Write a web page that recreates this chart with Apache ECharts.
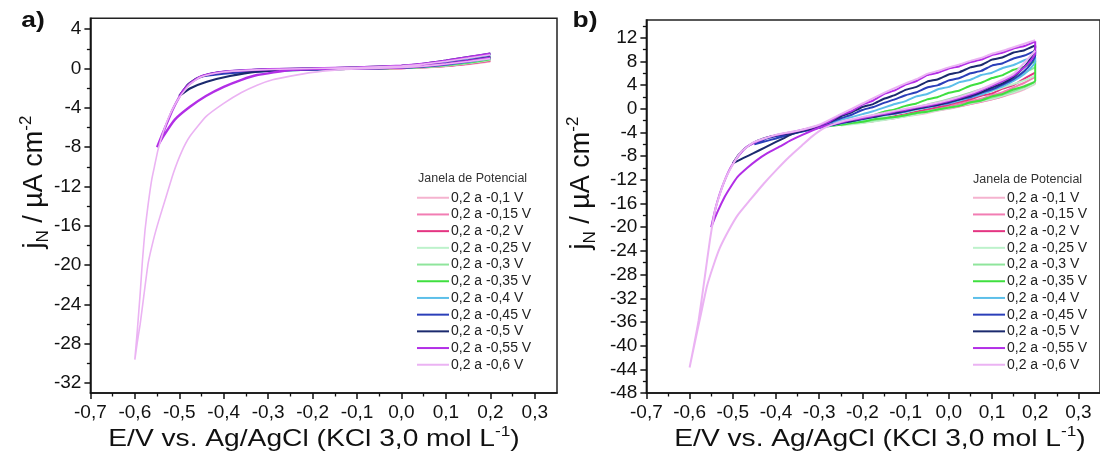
<!DOCTYPE html>
<html><head><meta charset="utf-8">
<script src="https://cdn.jsdelivr.net/npm/echarts@6/dist/echarts.min.js"></script>
<style>html,body{margin:0;padding:0;background:#fff}#c{width:1100px;height:455px}</style>
</head><body><div id="c"></div>
<script>
const seriesNames = ['0,2 a -0,1 V','0,2 a -0,15 V','0,2 a -0,2 V','0,2 a -0,25 V','0,2 a -0,3 V','0,2 a -0,35 V','0,2 a -0,4 V','0,2 a -0,45 V','0,2 a -0,5 V','0,2 a -0,55 V','0,2 a -0,6 V'];
const seriesColors = ['#f5b3cf','#f27db3','#e43582','#bdf2cb','#8fe59c','#3fdf3f','#5cbfe9','#2b3fb9','#1b2a6e','#b22ee6','#ebb3f3'];
const xTickValues = [-0.7,-0.6,-0.5,-0.4,-0.3,-0.2,-0.1,0,0.1,0.2,0.3];
const xMinorValues = [-0.65,-0.55,-0.45,-0.35,-0.25,-0.15,-0.05,0.05,0.15,0.25];
const yTicksA = [-32,-28,-24,-20,-16,-12,-8,-4,0,4];
const yMinorA = [-30,-26,-22,-18,-14,-10,-6,-2,2];
const yTicksB = [-48,-44,-40,-36,-32,-28,-24,-20,-16,-12,-8,-4,0,4,8,12];
const yMinorB = [-46,-42,-38,-34,-30,-26,-22,-18,-14,-10,-6,-2,2,6,10,14];
const legendTitle = 'Janela de Potencial';
const panelLabels = ['a)', 'b)'];

const a_01 = [[0.2,0.82],[0.15,0.5],[0.1,0.3],[0.05,0.16],[0,0.08],[-0.05,0.02],[-0.1,-0.05],[-0.05,-0.02],[0,0.03],[0.05,0.1],[0.1,0.22],[0.15,0.42],[0.2,0.7]];
const a_015 = [[0.2,0.9],[0.15,0.56],[0.1,0.34],[0.05,0.18],[0,0.09],[-0.05,0.03],[-0.1,-0.02],[-0.15,-0.08],[-0.1,-0.05],[-0.05,-0.02],[0,0.03],[0.05,0.1],[0.1,0.24],[0.15,0.45],[0.2,0.75]];
const a_02 = [[0.2,0.95],[0.15,0.6],[0.1,0.37],[0.05,0.2],[0,0.1],[-0.1,-0.01],[-0.2,-0.1],[-0.15,-0.07],[-0.1,-0.04],[0,0.03],[0.05,0.11],[0.1,0.26],[0.15,0.48],[0.2,0.8]];
const a_025 = [[0.2,1.0],[0.15,0.65],[0.1,0.4],[0.05,0.22],[0,0.12],[-0.1,0],[-0.2,-0.08],[-0.25,-0.14],[-0.2,-0.11],[-0.1,-0.04],[0,0.04],[0.05,0.12],[0.1,0.28],[0.15,0.52],[0.2,0.85]];
const a_03 = [[0.2,1.1],[0.15,0.72],[0.1,0.45],[0.05,0.25],[0,0.14],[-0.1,0.01],[-0.2,-0.07],[-0.3,-0.2],[-0.25,-0.16],[-0.2,-0.11],[-0.1,-0.04],[0,0.05],[0.05,0.14],[0.1,0.3],[0.15,0.56],[0.2,0.9]];
const a_035 = [[0.2,1.2],[0.15,0.82],[0.1,0.52],[0.05,0.3],[0,0.16],[-0.1,0.02],[-0.2,-0.06],[-0.3,-0.18],[-0.35,-0.3],[-0.3,-0.24],[-0.2,-0.12],[-0.1,-0.04],[0,0.06],[0.05,0.16],[0.1,0.34],[0.15,0.6],[0.2,0.95]];
const a_04 = [[0.2,1.3],[0.15,0.95],[0.1,0.62],[0.05,0.36],[0,0.2],[-0.1,0.04],[-0.2,-0.05],[-0.3,-0.15],[-0.35,-0.24],[-0.4,-0.4],[-0.37,-0.36],[-0.3,-0.26],[-0.2,-0.13],[-0.1,-0.04],[0,0.07],[0.05,0.18],[0.1,0.38],[0.15,0.66],[0.2,1.0]];
const a_045 = [[0.2,1.45],[0.15,1.08],[0.1,0.72],[0.05,0.42],[0,0.24],[-0.1,0.06],[-0.2,-0.03],[-0.3,-0.1],[-0.35,-0.2],[-0.4,-0.36],[-0.43,-0.56],[-0.45,-0.8],[-0.42,-0.62],[-0.38,-0.46],[-0.3,-0.24],[-0.2,-0.11],[-0.1,-0.03],[0,0.08],[0.05,0.2],[0.1,0.42],[0.15,0.72],[0.2,1.1]];
const a_05 = [[0.2,1.5],[0.15,1.15],[0.1,0.8],[0.05,0.48],[0,0.27],[-0.1,0.1],[-0.2,0],[-0.3,-0.1],[-0.35,-0.2],[-0.4,-0.35],[-0.43,-0.55],[-0.46,-1.0],[-0.48,-1.6],[-0.5,-2.8],[-0.476,-2.03],[-0.438,-1.35],[-0.386,-0.77],[-0.325,-0.33],[-0.25,-0.12],[-0.15,-0.03],[-0.05,0.02],[0,0.1],[0.05,0.24],[0.1,0.48],[0.15,0.8],[0.2,1.15]];
const a_055 = [[0.2,1.5],[0.15,1.15],[0.1,0.8],[0.05,0.48],[0,0.27],[-0.1,0.1],[-0.2,0],[-0.3,-0.08],[-0.35,-0.18],[-0.4,-0.34],[-0.43,-0.55],[-0.453,-0.85],[-0.475,-1.5],[-0.49,-2.2],[-0.5,-2.9],[-0.515,-4.2],[-0.53,-5.8],[-0.55,-8.0],[-0.536,-6.9],[-0.51,-5.2],[-0.476,-3.9],[-0.44,-2.8],[-0.4,-1.87],[-0.36,-1.15],[-0.325,-0.67],[-0.25,-0.16],[-0.15,-0.02],[-0.05,0.02],[0,0.1],[0.05,0.24],[0.1,0.46],[0.15,0.76],[0.2,1.1]];
const a_06 = [[0.2,1.4],[0.15,1.05],[0.1,0.72],[0.05,0.44],[0,0.25],[-0.1,0.08],[-0.2,-0.01],[-0.3,-0.1],[-0.35,-0.2],[-0.4,-0.36],[-0.43,-0.58],[-0.453,-0.9],[-0.475,-1.55],[-0.5,-2.95],[-0.52,-4.6],[-0.535,-6.3],[-0.548,-8.3],[-0.556,-10],[-0.562,-11.3],[-0.57,-13.8],[-0.577,-16.4],[-0.583,-19.6],[-0.588,-22.9],[-0.594,-26.4],[-0.6,-29.6],[-0.595,-28.0],[-0.588,-26.0],[-0.58,-23.2],[-0.57,-19.8],[-0.558,-17.4],[-0.547,-15.6],[-0.53,-13.1],[-0.513,-10.6],[-0.495,-8.5],[-0.476,-6.9],[-0.44,-4.9],[-0.4,-3.55],[-0.36,-2.45],[-0.325,-1.7],[-0.29,-1.15],[-0.25,-0.78],[-0.2,-0.4],[-0.15,-0.17],[-0.1,-0.04],[0,0.1],[0.05,0.24],[0.1,0.45],[0.15,0.7],[0.2,1.0]];

const b_01 = [[0.2,4.6],[0.175,3.9],[0.15,3.1],[0.125,2.6],[0.1,1.9],[0.075,1.5],[0.05,1.0],[0.025,0.7],[0,0.3],[-0.025,-0.1],[-0.05,-0.5],[-0.075,-0.8],[-0.1,-1.2],[-0.075,-1.0],[-0.05,-0.7],[-0.025,-0.3],[0,0.0],[0.025,0.4],[0.05,0.8],[0.075,1.2],[0.1,1.6],[0.125,2.1],[0.15,2.6],[0.175,3.3],[0.2,4.2]];
const b_015 = [[0.2,5.4],[0.175,4.4],[0.15,3.6],[0.125,2.8],[0.1,2.3],[0.075,1.7],[0.05,1.3],[0.025,0.9],[0,0.5],[-0.05,-0.3],[-0.1,-1.0],[-0.125,-1.4],[-0.15,-1.8],[-0.125,-1.6],[-0.1,-1.2],[-0.05,-0.5],[0,0.1],[0.05,0.8],[0.1,1.6],[0.125,2.1],[0.15,2.8],[0.175,3.4],[0.2,4.5]];
const b_02 = [[0.2,6.1],[0.175,5.1],[0.15,4.0],[0.125,3.4],[0.1,2.6],[0.075,2.2],[0.05,1.6],[0.025,1.2],[0,0.7],[-0.05,-0.1],[-0.1,-0.9],[-0.15,-1.6],[-0.2,-2.3],[-0.175,-2.1],[-0.15,-1.8],[-0.1,-1.2],[-0.05,-0.5],[0,0.2],[0.05,1.0],[0.075,1.4],[0.1,1.9],[0.125,2.4],[0.15,3.0],[0.175,3.7],[0.2,4.4]];
const b_025 = [[0.2,5.6],[0.175,4.8],[0.15,4.2],[0.1,3.0],[0.05,2.0],[0,1.1],[-0.05,0.3],[-0.1,-0.5],[-0.15,-1.3],[-0.2,-2.1],[-0.25,-2.8],[-0.2,-2.4],[-0.15,-1.9],[-0.1,-1.3],[-0.05,-0.6],[0,0.1],[0.05,0.9],[0.1,1.7],[0.15,2.8],[0.175,3.4],[0.2,4.3]];
const b_03 = [[0.2,7.0],[0.175,6.1],[0.15,5.3],[0.125,4.5],[0.1,3.9],[0.05,2.7],[0,1.6],[-0.05,0.7],[-0.1,-0.2],[-0.15,-1.0],[-0.2,-1.8],[-0.25,-2.5],[-0.3,-3.1],[-0.25,-2.7],[-0.2,-2.2],[-0.15,-1.7],[-0.1,-1.1],[-0.05,-0.4],[0,0.2],[0.05,1.0],[0.1,1.9],[0.125,2.4],[0.15,3.0],[0.175,3.7],[0.2,4.6]];
const b_035 = [[0.2,8.1],[0.175,7.1],[0.15,6.6],[0.125,5.7],[0.1,5.2],[0.075,4.4],[0.05,3.9],[0.025,3.1],[0,2.7],[-0.025,2.0],[-0.05,1.6],[-0.075,0.9],[-0.1,0.5],[-0.125,-0.1],[-0.15,-0.5],[-0.175,-1.1],[-0.2,-1.5],[-0.25,-2.3],[-0.3,-3.0],[-0.325,-3.4],[-0.35,-3.8],[-0.325,-3.5],[-0.3,-3.1],[-0.275,-2.9],[-0.25,-2.7],[-0.225,-2.4],[-0.2,-2.2],[-0.175,-1.8],[-0.15,-1.6],[-0.125,-1.4],[-0.1,-1.1],[-0.075,-0.7],[-0.05,-0.5],[-0.025,-0.1],[0,0.2],[0.025,0.5],[0.05,1.1],[0.075,1.4],[0.1,2.1],[0.125,2.5],[0.15,3.3],[0.175,3.8],[0.2,4.7],[0.2,8.1]];
const b_04 = [[0.2,8.7],[0.175,8.2],[0.15,7.4],[0.125,6.9],[0.1,6.1],[0.075,5.7],[0.05,4.9],[0.025,4.5],[0,3.7],[-0.025,3.3],[-0.05,2.5],[-0.075,2.1],[-0.1,1.3],[-0.125,0.8],[-0.15,0.2],[-0.175,-0.4],[-0.2,-0.9],[-0.25,-1.9],[-0.3,-2.9],[-0.35,-3.8],[-0.375,-4.2],[-0.4,-4.8],[-0.375,-4.4],[-0.35,-4.0],[-0.3,-3.2],[-0.25,-2.5],[-0.2,-1.8],[-0.15,-1.1],[-0.1,-0.5],[-0.075,-0.1],[-0.05,0.2],[-0.025,0.6],[0,0.9],[0.025,1.4],[0.05,1.9],[0.075,2.4],[0.1,3.1],[0.125,3.8],[0.15,4.7],[0.175,5.9],[0.19,6.9],[0.2,8.0],[0.2,8.7]];
const b_045 = [[0.2,9.8],[0.175,9.0],[0.15,8.5],[0.125,7.7],[0.1,7.3],[0.075,6.4],[0.05,6.0],[0.025,5.2],[0,4.8],[-0.025,4.0],[-0.05,3.6],[-0.075,2.8],[-0.1,2.3],[-0.125,1.6],[-0.15,1.0],[-0.175,0.3],[-0.2,-0.2],[-0.225,-1.0],[-0.25,-1.6],[-0.275,-2.3],[-0.3,-2.9],[-0.35,-3.8],[-0.4,-4.6],[-0.425,-5.1],[-0.45,-6.0],[-0.425,-5.5],[-0.4,-5.0],[-0.35,-4.0],[-0.3,-3.2],[-0.25,-2.4],[-0.2,-1.7],[-0.15,-1.0],[-0.125,-0.8],[-0.1,-0.4],[-0.075,0.0],[-0.05,0.3],[-0.025,0.7],[0,1.0],[0.025,1.6],[0.05,2.0],[0.075,2.7],[0.1,3.3],[0.125,4.1],[0.15,5.0],[0.175,6.4],[0.19,7.6],[0.2,9.0],[0.2,9.8]];
const b_05 = [[0.2,10.7],[0.175,9.9],[0.15,9.5],[0.125,8.7],[0.1,8.3],[0.075,7.4],[0.05,7.0],[0.025,6.2],[0,5.8],[-0.025,5.0],[-0.05,4.6],[-0.075,3.7],[-0.1,3.2],[-0.125,2.3],[-0.15,1.7],[-0.175,0.8],[-0.2,0.3],[-0.225,-0.6],[-0.25,-1.3],[-0.275,-2.2],[-0.3,-2.9],[-0.325,-3.5],[-0.35,-3.9],[-0.375,-4.2],[-0.4,-4.5],[-0.414,-4.7],[-0.44,-5.3],[-0.467,-6.4],[-0.485,-7.6],[-0.5,-9.2],[-0.475,-8.3],[-0.452,-7.5],[-0.425,-6.5],[-0.4,-5.6],[-0.38,-4.9],[-0.361,-4.2],[-0.33,-3.6],[-0.3,-3.1],[-0.275,-2.8],[-0.25,-2.4],[-0.225,-2.1],[-0.2,-1.7],[-0.175,-1.4],[-0.15,-1.0],[-0.125,-0.7],[-0.1,-0.3],[-0.075,0.0],[-0.05,0.4],[-0.025,0.7],[0,1.2],[0.025,1.6],[0.05,2.2],[0.075,2.8],[0.1,3.6],[0.125,4.3],[0.15,5.4],[0.175,7.1],[0.19,8.6],[0.2,10.3],[0.2,10.7]];
const b_055 = [[0.2,11.4],[0.175,10.6],[0.15,10.2],[0.125,9.5],[0.1,9.1],[0.075,8.3],[0.05,7.9],[0.025,7.2],[0,6.8],[-0.025,6.1],[-0.05,5.7],[-0.075,4.7],[-0.1,4.1],[-0.125,3.1],[-0.15,2.5],[-0.175,1.4],[-0.2,0.7],[-0.225,-0.4],[-0.25,-1.0],[-0.275,-2.1],[-0.3,-2.8],[-0.33,-3.4],[-0.361,-3.9],[-0.39,-4.3],[-0.414,-4.7],[-0.44,-5.4],[-0.467,-6.4],[-0.485,-7.8],[-0.504,-9.8],[-0.517,-11.8],[-0.53,-14.3],[-0.54,-16.8],[-0.55,-20.0],[-0.536,-17.5],[-0.519,-14.9],[-0.505,-13.2],[-0.489,-11.5],[-0.467,-10.0],[-0.445,-8.7],[-0.42,-7.5],[-0.392,-6.4],[-0.365,-5.3],[-0.339,-4.4],[-0.3,-3.2],[-0.275,-2.7],[-0.25,-2.3],[-0.225,-1.9],[-0.2,-1.6],[-0.175,-1.2],[-0.15,-0.9],[-0.125,-0.5],[-0.1,-0.2],[-0.075,0.2],[-0.05,0.5],[-0.025,0.9],[0,1.3],[0.025,1.8],[0.05,2.4],[0.075,3.1],[0.1,3.9],[0.125,4.7],[0.15,5.6],[0.175,7.0],[0.19,8.2],[0.2,9.4],[0.2,11.4]];
const b_06 = [[0.2,11.6],[0.175,11.0],[0.15,10.4],[0.125,9.8],[0.1,9.3],[0.075,8.6],[0.05,8.1],[0.025,7.5],[0,7.0],[-0.025,6.4],[-0.05,5.9],[-0.075,5.0],[-0.1,4.3],[-0.15,2.7],[-0.2,0.9],[-0.25,-0.9],[-0.3,-2.7],[-0.35,-3.7],[-0.4,-4.4],[-0.45,-5.6],[-0.48,-7.2],[-0.5,-9.4],[-0.52,-12.3],[-0.54,-16.8],[-0.553,-22.2],[-0.565,-28.5],[-0.579,-35.7],[-0.59,-40.0],[-0.6,-43.7],[-0.588,-39.5],[-0.575,-35.1],[-0.56,-30.0],[-0.545,-26.5],[-0.53,-23.5],[-0.51,-20.6],[-0.489,-18.0],[-0.46,-15.4],[-0.429,-12.7],[-0.4,-10.4],[-0.369,-8.1],[-0.34,-6.2],[-0.317,-4.7],[-0.29,-3.3],[-0.25,-2.2],[-0.2,-1.4],[-0.15,-0.7],[-0.1,0],[-0.05,0.7],[0,1.5],[0.05,2.6],[0.1,4.1],[0.15,5.9],[0.2,9.8]];

const curvesA = [a_01,a_015,a_02,a_025,a_03,a_035,a_04,a_045,a_05,a_055,a_06];
const curvesB = [b_01,b_015,b_02,b_025,b_03,b_035,b_04,b_045,b_05,b_055,b_06];

const FONT = "'Liberation Sans', Arial, sans-serif";
const TXT = '#111';
const fmtX = v => v.toFixed(1).replace('.', ',');
const AX = '#111';

function xAxes(gridIndex) {
  const base = {gridIndex, type: 'value', min: -0.7, max: 0.35, position: 'bottom', splitLine: {show: false}};
  return [
    Object.assign({}, base, {
      axisLine: {show: true, onZero: false, lineStyle: {color: AX, width: 1.5}},
      axisTick: {show: false},
      axisLabel: {show: true, customValues: xTickValues, formatter: fmtX, color: TXT, fontFamily: FONT, fontSize: 19, margin: 10}
    }),
    Object.assign({}, base, {
      axisLine: {show: false, onZero: false},
      axisTick: {show: true, inside: false, length: 3.5, customValues: xMinorValues, lineStyle: {color: AX, width: 1.3}},
      axisLabel: {show: false}
    }),
    Object.assign({}, base, {
      axisLine: {show: false, onZero: false},
      axisTick: {show: true, inside: false, length: 6, customValues: xTickValues, lineStyle: {color: AX, width: 1.5}},
      axisLabel: {show: false}
    })
  ];
}
function yAxes(gridIndex, min, max, ticks, minors) {
  const base = {gridIndex, type: 'value', min, max, position: 'left', splitLine: {show: false}};
  return [
    Object.assign({}, base, {
      axisLine: {show: true, onZero: false, lineStyle: {color: AX, width: 1.5}},
      axisTick: {show: false},
      axisLabel: {show: true, customValues: ticks, formatter: v => String(v), color: TXT, fontFamily: FONT, fontSize: 19, margin: 9}
    }),
    Object.assign({}, base, {
      axisLine: {show: false, onZero: false},
      axisTick: {show: true, inside: false, length: 3.5, customValues: minors, lineStyle: {color: AX, width: 1.3}},
      axisLabel: {show: false}
    }),
    Object.assign({}, base, {
      axisLine: {show: false, onZero: false},
      axisTick: {show: true, inside: false, length: 6, customValues: ticks, lineStyle: {color: AX, width: 1.5}},
      axisLabel: {show: false}
    })
  ];
}

const widthsA = [2, 2, 2, 2, 2, 2, 2, 2.2, 2.2, 2.4, 1.6];
const series = [];
curvesA.forEach((d, i) => series.push({
  name: seriesNames[i], type: 'line', xAxisIndex: 0, yAxisIndex: 0, data: d,
  showSymbol: false, symbol: 'none', smooth: 0.15, lineStyle: {color: seriesColors[i], width: widthsA[i]}, itemStyle: {color: seriesColors[i]}
}));
curvesB.forEach((d, i) => series.push({
  name: seriesNames[i], type: 'line', xAxisIndex: 3, yAxisIndex: 3, data: d,
  showSymbol: false, symbol: 'none', smooth: 0.15, lineStyle: {color: seriesColors[i], width: 2}, itemStyle: {color: seriesColors[i]}
}));

function legendAt(left) {
  return {
    left, top: 190.5, padding: 0, orient: 'vertical', data: seriesNames, icon: 'rect', itemWidth: 32, itemHeight: 2,
    itemGap: 2.2, selectedMode: false,
    textStyle: {color: '#222', fontFamily: FONT, fontSize: 14, lineHeight: 14.5, padding: [0, 0, 0, -3]}
  };
}
function yTitle(x, y) {
  return {
    type: 'text', x, y, rotation: Math.PI / 2,
    style: {
      text: '{m|j}{s|N}{m| / µA cm}{p|-2}',
      align: 'center', verticalAlign: 'middle', fill: TXT,
      rich: {
        m: {fontFamily: FONT, fontSize: 27, lineHeight: 34, verticalAlign: 'middle', fill: TXT},
        s: {fontFamily: FONT, fontSize: 17, lineHeight: 17, verticalAlign: 'bottom', fill: TXT},
        p: {fontFamily: FONT, fontSize: 17, lineHeight: 17, verticalAlign: 'top', fill: TXT}
      }
    }
  };
}
function xTitle(x, y) {
  return {
    type: 'text', x, y, scaleX: 1.15,
    style: {
      text: '{m|E/V vs. Ag/AgCl (KCl 3,0 mol L}{p|-1}{m|)}',
      align: 'center', verticalAlign: 'middle', fill: TXT,
      rich: {
        m: {fontFamily: FONT, fontSize: 24.5, lineHeight: 30, verticalAlign: 'middle', fill: TXT},
        p: {fontFamily: FONT, fontSize: 15, lineHeight: 15, verticalAlign: 'top', fill: TXT}
      }
    }
  };
}
function panelLabel(text, x, y) {
  return {type: 'text', x, y, scaleX: 1.2, style: {text, fontFamily: FONT, fontSize: 22, fontWeight: 'bold', fill: TXT, align: 'center', verticalAlign: 'middle'}};
}

const option = {
  animation: false,
  backgroundColor: '#fff',
  grid: [
    {left: 90.4, top: 18.3, width: 466.6, height: 374.7, show: true, borderColor: '#222', borderWidth: 1.5, backgroundColor: 'transparent', containLabel: false},
    {left: 646.4, top: 20, width: 466, height: 373, show: true, borderColor: '#222', borderWidth: 1.5, backgroundColor: 'transparent', containLabel: false}
  ],
  xAxis: [...xAxes(0), ...xAxes(1)],
  yAxis: [...yAxes(0, -33, 5.1, yTicksA, yMinorA), ...yAxes(1, -48, 15, yTicksB, yMinorB)],
  legend: [legendAt(417), legendAt(973)],
  graphic: [
    yTitle(35, 182), yTitle(582, 183),
    xTitle(314, 439), xTitle(880, 439),
    panelLabel(panelLabels[0], 33, 21), panelLabel(panelLabels[1], 585, 21),
    {type: 'text', x: 418, y: 178.5, style: {text: legendTitle, fontFamily: FONT, fontSize: 12.5, fill: '#333', align: 'left', verticalAlign: 'middle'}},
    {type: 'text', x: 973, y: 180, style: {text: legendTitle, fontFamily: FONT, fontSize: 12.5, fill: '#333', align: 'left', verticalAlign: 'middle'}}
  ],
  series
};
const chart = echarts.init(document.getElementById('c'), null, {renderer: 'canvas'});
chart.setOption(option);
</script>
</body></html>
